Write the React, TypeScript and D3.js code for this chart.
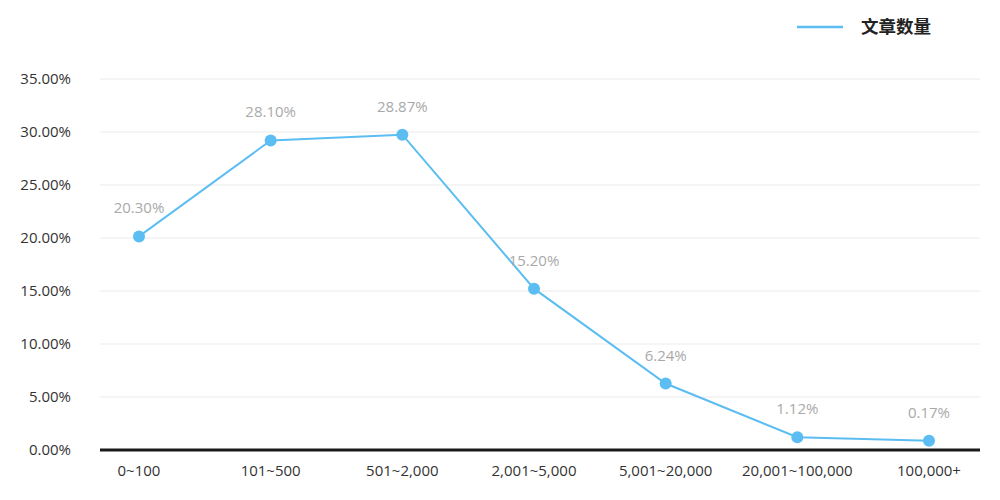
import React from "react";
import * as d3 from "d3";

const categories = ["0~100", "101~500", "501~2,000", "2,001~5,000", "5,001~20,000", "20,001~100,000", "100,000+"];
const values = [20.15, 29.2, 29.75, 15.22, 6.27, 1.2, 0.88];
const pointLabels = ["20.30%", "28.10%", "28.87%", "15.20%", "6.24%", "1.12%", "0.17%"];
const yTicks = [0, 5, 10, 15, 20, 25, 30, 35];
const seriesName = "文章数量";

const W = 1000;
const H = 500;
const left = 100;
const right = 980;
const top = 79;
const bottom = 450;
const color = "#5bbdf2";
const font = "'Open Sans', 'Noto Sans CJK SC', sans-serif";

export default function App() {
  const x = d3.scalePoint<string>().domain(categories).range([139, 929]);
  const y = d3.scaleLinear().domain([0, 35]).range([bottom, top]);
  const line = d3
    .line<number>()
    .x((_, i) => x(categories[i]) as number)
    .y((d) => y(d));

  return (
    <svg width={W} height={H} style={{ position: "absolute", left: 0, top: 0, background: "#fff" }} fontFamily={font}>
      {yTicks.map((t) => (
        <g key={t}>
          {t !== 0 && <line x1={left} x2={right} y1={y(t)} y2={y(t)} stroke="#ebebeb" strokeWidth={1} />}
          <text x={71} y={y(t)} dy="0.35em" textAnchor="end" fontSize={15} fill="#333">
            {t.toFixed(2)}%
          </text>
        </g>
      ))}
      <line x1={left} x2={right} y1={y(0)} y2={y(0)} stroke="#1a1a1a" strokeWidth={3} />
      {categories.map((c) => (
        <text key={c} x={x(c)} y={476} textAnchor="middle" fontSize={15} fill="#333">
          {c}
        </text>
      ))}
      <path d={line(values) || ""} fill="none" stroke={color} strokeWidth={2} />
      {values.map((v, i) => (
        <g key={i}>
          <circle cx={x(categories[i])} cy={y(v)} r={6} fill={color} />
          <text x={x(categories[i])} y={y(v) - 23} textAnchor="middle" fontSize={15} fill="#a9a9a9">
            {pointLabels[i]}
          </text>
        </g>
      ))}
      <line x1={797} x2={843} y1={27} y2={27} stroke={color} strokeWidth={2.5} />
      <text x={861} y={27} dy="0.35em" fontSize={17.5} fontWeight="bold" fill="#222">
        {seriesName}
      </text>
    </svg>
  );
}
